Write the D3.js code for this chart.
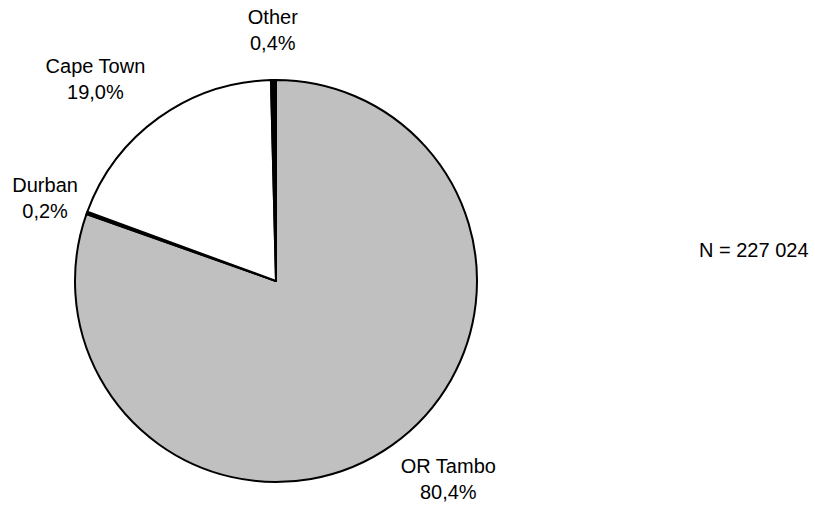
<!DOCTYPE html>
<html>
<head>
<meta charset="utf-8">
<script src="https://cdn.jsdelivr.net/npm/d3@7"></script>
<style>
  body { margin: 0; background: #fff; }
  svg { display: block; }
  text { font-family: "Liberation Sans", Arial, sans-serif; font-size: 20px; fill: #000; }
</style>
</head>
<body>
<div id="chart"></div>
<script>
// data, clockwise from 12 o'clock
const categories = ['OR Tambo', 'Durban', 'Cape Town', 'Other'];
const shares = [80.4, 0.2, 19.0, 0.4];
const sliceColors = ['#c0c0c0', '#000000', '#ffffff', '#000000'];
const totalLabel = 'N = 227 024';

const width = 815, height = 506;
const cx = 276, cy = 281, r = 201;
const labelRadius = 255;
// small nudges so labels sit like the original
const nudge = { 'OR Tambo': [25, -10], 'Durban': [9, 4], 'Cape Town': [-32, 6], 'Other': [0, 4] };

const data = categories.map((name, i) => ({ name, value: shares[i], color: sliceColors[i] }));
const fmt = v => d3.format('.1f')(v).replace('.', ',') + '%';

const svg = d3.select('#chart')
  .append('svg')
  .attr('width', width)
  .attr('height', height);

const g = svg.append('g').attr('transform', `translate(${cx},${cy})`);

const pie = d3.pie().sort(null).value(d => d.value);
const arcs = pie(data);
const arc = d3.arc().innerRadius(0).outerRadius(r);

// slices
g.selectAll('.slice')
  .data(arcs)
  .enter()
  .append('path')
  .attr('class', 'slice')
  .attr('d', arc)
  .style('fill', d => d.data.color)
  .style('stroke', '#000')
  .style('stroke-width', '2px')
  .style('stroke-linejoin', 'round');

// labels
const label = g.selectAll('.label')
  .data(arcs)
  .enter()
  .append('text')
  .attr('class', 'label')
  .attr('text-anchor', 'middle')
  .attr('transform', d => {
    const a = (d.startAngle + d.endAngle) / 2;
    const n = nudge[d.data.name] || [0, 0];
    const x = Math.sin(a) * labelRadius + n[0];
    const y = -Math.cos(a) * labelRadius + n[1];
    return `translate(${x},${y - 6.5})`;
  });

label.append('tspan').attr('x', 0).attr('y', 0).text(d => d.data.name);
label.append('tspan').attr('x', 0).attr('y', 26).text(d => fmt(d.data.value));

svg.append('text')
  .attr('x', 699)
  .attr('y', 257)
  .text(totalLabel);
</script>
</body>
</html>
